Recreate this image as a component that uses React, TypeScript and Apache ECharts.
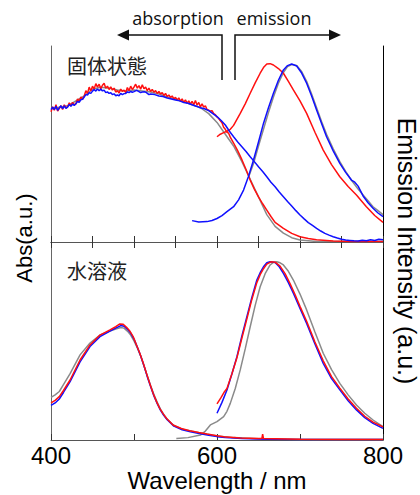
import React, { useEffect, useRef } from "react";
import * as echarts from "echarts";

type P = [number, number];

// ---- Top panel (solid state) ----
const absTopGray: P[] = [[400,0.68],[420,0.695],[440,0.745],[450,0.78],[460,0.79],[470,0.785],[480,0.775],[490,0.77],[500,0.775],[510,0.77],[520,0.765],[530,0.755],[540,0.74],[550,0.728],[560,0.715],[570,0.7],[580,0.685],[590,0.655],[600,0.61],[610,0.55],[620,0.49],[630,0.41],[640,0.32],[650,0.23],[660,0.14],[670,0.08],[680,0.045],[690,0.022],[700,0.01],[720,0.003],[800,0.002]];
const absTopRed: P[] = [[400,0.665],[402,0.69],[404,0.672],[406,0.7],[408,0.668],[410,0.682],[412,0.695],[414,0.676],[416,0.7],[418,0.684],[420,0.69],[422,0.71],[424,0.695],[426,0.712],[428,0.7],[430,0.705],[432,0.73],[434,0.718],[436,0.74],[438,0.728],[440,0.745],[442,0.772],[444,0.758],[446,0.79],[448,0.77],[450,0.795],[452,0.78],[454,0.808],[456,0.79],[458,0.805],[460,0.782],[462,0.8],[464,0.81],[466,0.785],[468,0.795],[470,0.778],[472,0.792],[474,0.775],[476,0.785],[478,0.765],[480,0.772],[482,0.76],[484,0.78],[486,0.768],[488,0.775],[490,0.762],[492,0.788],[494,0.772],[496,0.795],[498,0.778],[500,0.79],[502,0.805],[504,0.785],[506,0.798],[508,0.78],[510,0.802],[512,0.782],[514,0.79],[516,0.772],[518,0.785],[520,0.768],[522,0.778],[524,0.765],[526,0.772],[528,0.758],[530,0.768],[532,0.755],[534,0.762],[536,0.748],[538,0.758],[540,0.742],[542,0.75],[544,0.738],[546,0.745],[548,0.73],[550,0.738],[552,0.725],[554,0.735],[556,0.718],[558,0.73],[560,0.712],[562,0.725],[564,0.708],[566,0.72],[568,0.703],[570,0.718],[572,0.7],[574,0.722],[576,0.698],[578,0.712],[580,0.69],[582,0.705],[584,0.688],[586,0.695],[588,0.676],[590,0.672],[592,0.668],[594,0.67],[596,0.655],[598,0.65],[600,0.638],[602,0.63],[604,0.618],[606,0.608],[608,0.585],[610,0.575],[612,0.56],[614,0.555],[616,0.535],[620,0.505],[625,0.465],[630,0.42],[635,0.37],[640,0.316],[645,0.27],[650,0.23],[655,0.195],[660,0.163],[665,0.13],[670,0.1],[680,0.07],[690,0.044],[700,0.027],[710,0.018],[720,0.012],[740,0.005],[760,0.003],[780,0.002],[800,0.002]];
const absTopBlue: P[] = [[400,0.675],[402,0.688],[404,0.676],[406,0.692],[408,0.672],[410,0.684],[412,0.695],[414,0.68],[416,0.694],[418,0.682],[420,0.688],[422,0.702],[424,0.692],[426,0.704],[428,0.697],[430,0.705],[432,0.718],[434,0.712],[436,0.726],[438,0.728],[440,0.74],[442,0.752],[444,0.75],[446,0.762],[448,0.758],[450,0.77],[452,0.778],[454,0.77],[456,0.781],[458,0.772],[460,0.78],[462,0.771],[464,0.775],[466,0.762],[468,0.766],[470,0.758],[472,0.762],[474,0.752],[476,0.756],[478,0.746],[480,0.75],[482,0.746],[484,0.758],[486,0.752],[488,0.757],[490,0.758],[492,0.766],[494,0.762],[496,0.768],[498,0.764],[500,0.767],[503,0.774],[505,0.77],[508,0.762],[510,0.765],[513,0.766],[515,0.762],[518,0.752],[520,0.755],[525,0.752],[530,0.745],[535,0.742],[540,0.735],[545,0.73],[550,0.725],[555,0.72],[560,0.712],[565,0.708],[570,0.7],[575,0.693],[580,0.685],[585,0.68],[590,0.67],[595,0.655],[600,0.64],[605,0.62],[610,0.597],[615,0.565],[620,0.537],[625,0.51],[630,0.486],[635,0.462],[640,0.435],[645,0.41],[650,0.384],[655,0.36],[660,0.333],[665,0.305],[670,0.282],[675,0.255],[680,0.231],[685,0.207],[690,0.184],[695,0.16],[700,0.138],[705,0.118],[710,0.099],[715,0.085],[720,0.07],[725,0.056],[730,0.044],[735,0.035],[740,0.027],[745,0.02],[750,0.014],[755,0.01],[760,0.008],[765,0.006],[770,0.005],[775,0.009],[780,0.006],[785,0.011],[790,0.008],[795,0.014],[800,0.012]];
const emTopGray: P[] = [[638,0.33],[644,0.4],[650,0.49],[656,0.575],[662,0.66],[668,0.74],[674,0.81],[680,0.865],[685,0.895],[690,0.905],[696,0.9],[702,0.87],[708,0.82],[714,0.755],[720,0.685],[726,0.615],[732,0.55],[740,0.475],[748,0.41],[755,0.36],[762,0.315],[770,0.27],[776,0.24],[782,0.21],[788,0.18],[794,0.16],[800,0.14]];
const emTopRed: P[] = [[600,0.537],[604,0.55],[608,0.558],[612,0.565],[616,0.575],[620,0.595],[628,0.656],[634,0.705],[640,0.759],[646,0.812],[652,0.861],[656,0.89],[660,0.908],[664,0.91],[668,0.903],[674,0.885],[680,0.861],[686,0.82],[692,0.776],[700,0.72],[708,0.656],[718,0.56],[728,0.469],[738,0.395],[748,0.333],[758,0.283],[768,0.24],[780,0.18],[790,0.135],[800,0.1]];
const emTopBlue: P[] = [[570,0.109],[578,0.102],[588,0.104],[594,0.11],[600,0.12],[606,0.135],[612,0.155],[620,0.18],[626,0.215],[632,0.265],[638,0.335],[644,0.418],[650,0.51],[656,0.605],[662,0.685],[668,0.759],[674,0.825],[680,0.878],[685,0.9],[690,0.908],[696,0.898],[702,0.862],[708,0.81],[714,0.745],[720,0.673],[726,0.605],[732,0.537],[740,0.465],[748,0.401],[755,0.355],[762,0.316],[766,0.305],[770,0.285],[776,0.235],[782,0.2],[788,0.172],[794,0.148],[800,0.129]];

// ---- Bottom panel (aqueous solution) ----
const absBotGray: P[] = [[400,0.215],[405,0.228],[410,0.245],[415,0.28],[423,0.335],[435,0.43],[447,0.49],[459,0.53],[471,0.55],[478,0.56],[484,0.568],[488,0.565],[492,0.55],[496,0.53],[500,0.5],[504,0.465],[508,0.425],[512,0.375],[516,0.325],[520,0.275],[524,0.23],[528,0.19],[532,0.155],[536,0.128],[540,0.105],[548,0.073],[558,0.055],[570,0.044],[580,0.036],[590,0.028],[600,0.02],[620,0.012],[650,0.006],[700,0.003],[800,0.002]];
const absBotRed: P[] = [[400,0.188],[405,0.2],[410,0.219],[415,0.25],[423,0.303],[435,0.404],[447,0.48],[459,0.53],[471,0.556],[478,0.572],[483,0.586],[487,0.585],[491,0.569],[495,0.55],[499,0.522],[503,0.48],[507,0.438],[511,0.39],[515,0.337],[519,0.285],[523,0.236],[527,0.195],[531,0.16],[535,0.133],[539,0.11],[547,0.076],[557,0.058],[567,0.047],[578,0.038],[588,0.03],[600,0.022],[608,0.017],[628,0.01],[650,0.007],[654,0.007],[655,0.03],[656,0.007],[700,0.004],[750,0.003],[800,0.002]];
const absBotBlue: P[] = [[400,0.175],[405,0.187],[410,0.207],[415,0.24],[423,0.295],[435,0.395],[447,0.472],[459,0.522],[471,0.55],[478,0.565],[484,0.578],[488,0.575],[492,0.56],[496,0.54],[500,0.51],[504,0.47],[508,0.425],[512,0.375],[516,0.32],[520,0.27],[524,0.222],[528,0.183],[532,0.15],[536,0.123],[540,0.102],[548,0.07],[558,0.052],[568,0.041],[580,0.032],[590,0.024],[600,0.017],[610,0.012],[630,0.007],[660,0.004],[700,0.003],[800,0.002]];
const emBotGray: P[] = [[551,0.008],[565,0.012],[580,0.025],[586,0.045],[592,0.076],[600,0.093],[608,0.118],[612,0.145],[616,0.185],[622,0.26],[628,0.354],[634,0.46],[640,0.572],[646,0.68],[652,0.774],[658,0.84],[664,0.884],[668,0.897],[672,0.9],[676,0.895],[680,0.884],[686,0.852],[692,0.808],[700,0.737],[708,0.657],[718,0.545],[728,0.438],[738,0.355],[748,0.286],[758,0.228],[768,0.177],[778,0.135],[788,0.101],[800,0.067]];
const emBotRed: P[] = [[600,0.182],[605,0.215],[609,0.244],[612,0.26],[618,0.335],[624,0.415],[630,0.515],[636,0.612],[642,0.71],[648,0.795],[652,0.835],[656,0.865],[660,0.888],[665,0.9],[670,0.898],[676,0.878],[682,0.84],[688,0.79],[694,0.735],[700,0.675],[708,0.6],[718,0.495],[728,0.4],[738,0.32],[748,0.262],[758,0.207],[768,0.16],[778,0.12],[788,0.09],[800,0.066]];
const emBotBlue: P[] = [[600,0.135],[606,0.19],[612,0.253],[618,0.335],[624,0.421],[630,0.525],[636,0.623],[642,0.72],[648,0.808],[652,0.845],[656,0.875],[660,0.895],[664,0.9],[670,0.896],[675,0.875],[680,0.842],[686,0.795],[692,0.741],[700,0.665],[708,0.589],[718,0.485],[728,0.387],[738,0.31],[748,0.253],[758,0.198],[768,0.152],[778,0.113],[788,0.084],[800,0.059]];

const xTickLabels = [400, 600, 800];
const panelLabels = ["固体状態", "水溶液"];

const RED = "#ff1010";
const BLUE = "#1010ff";
const GRAY = "#8a8a8a";

export default function App() {
  const ref = useRef<HTMLDivElement>(null);
  useEffect(() => {
    document.body.style.margin = "0";
    if (!ref.current) return;
    const chart = echarts.init(ref.current, undefined, { renderer: "svg" });
    const line = (data: P[], color: string, panel: number) => ({
      type: "line",
      data,
      xAxisIndex: panel === 0 ? 0 : 2,
      yAxisIndex: panel === 0 ? 0 : 2,
      showSymbol: false,
      symbol: "none",
      lineStyle: { color, width: 1.5 },
      itemStyle: { color },
      silent: true,
      z: 3,
    });
    const baseX = {
      type: "value",
      min: 400,
      max: 800,
      splitLine: { show: false },
      axisLine: { show: true, lineStyle: { color: "#555", width: 1 } },
      axisTick: { show: true, inside: true, length: 6, lineStyle: { color: "#333" } },
      axisLabel: { show: false },
    };
    const baseY = (gridIndex: number, position: string, color: string) => ({
      type: "value",
      gridIndex,
      position,
      min: 0,
      max: 1,
      splitLine: { show: false },
      axisLine: { show: true, lineStyle: { color, width: 1 } },
      axisTick: { show: false },
      axisLabel: { show: false },
    });
    const txt = "'Liberation Sans', Arial, sans-serif";
    chart.setOption({
      animation: false,
      grid: [
        { left: 51, top: 46, width: 332, height: 196 },
        { left: 51, top: 242, width: 332, height: 198 },
      ],
      xAxis: [
        { ...baseX, gridIndex: 0, position: "bottom", interval: 50 },
        { ...baseX, gridIndex: 0, position: "top", interval: 50 },
        {
          ...baseX,
          gridIndex: 1,
          position: "bottom",
          interval: 100,
          axisLabel: {
            show: true,
            margin: 3,
            fontSize: 24,
            color: "#000",
            fontFamily: txt,
            formatter: (v: number) => (xTickLabels.includes(v) ? String(v) : ""),
          },
          name: "Wavelength / nm",
          nameLocation: "middle",
          nameGap: 28,
          nameTextStyle: { fontSize: 24, color: "#000", fontFamily: txt },
        },
      ],
      yAxis: [
        baseY(0, "left", "#666"),
        baseY(0, "right", "#000"),
        baseY(1, "left", "#666"),
        baseY(1, "right", "#000"),
      ],
      series: [
        line(absTopGray, GRAY, 0),
        line(emTopGray, GRAY, 0),
        line(absTopRed, RED, 0),
        line(emTopRed, RED, 0),
        line(absTopBlue, BLUE, 0),
        line(emTopBlue, BLUE, 0),
        line(absBotGray, GRAY, 1),
        line(emBotGray, GRAY, 1),
        line(absBotBlue, BLUE, 1),
        line(emBotBlue, BLUE, 1),
        line(absBotRed, RED, 1),
        line(emBotRed, RED, 1),
      ],
      graphic: [
        { type: "text", x: 178, y: 18, style: { text: "absorption", fontSize: 18, fontFamily: "'Open Sans', sans-serif", fill: "#111", textAlign: "center", textVerticalAlign: "middle" } },
        { type: "text", x: 274, y: 18, style: { text: "emission", fontSize: 18, fontFamily: "'Open Sans', sans-serif", fill: "#111", textAlign: "center", textVerticalAlign: "middle" } },
        { type: "polyline", shape: { points: [[222, 80], [222, 35], [127, 35]] }, style: { stroke: "#111", lineWidth: 1.5, fill: "none" } },
        { type: "polygon", shape: { points: [[117, 35], [129, 29.5], [129, 40.5]] }, style: { fill: "#111" } },
        { type: "polyline", shape: { points: [[235, 80], [235, 35], [331, 35]] }, style: { stroke: "#111", lineWidth: 1.5, fill: "none" } },
        { type: "polygon", shape: { points: [[341, 35], [329, 29.5], [329, 40.5]] }, style: { fill: "#111" } },
        { type: "text", x: 67, y: 65, style: { text: panelLabels[0], fontSize: 20, fontFamily: "'Noto Sans CJK JP', sans-serif", fill: "#222", textAlign: "left", textVerticalAlign: "middle" } },
        { type: "text", x: 67, y: 270, style: { text: panelLabels[1], fontSize: 20, fontFamily: "'Noto Sans CJK JP', sans-serif", fill: "#222", textAlign: "left", textVerticalAlign: "middle" } },
        { type: "text", x: 24, y: 238, rotation: Math.PI / 2, style: { text: "Abs(a.u.)", fontSize: 22, fontFamily: txt, fill: "#000", textAlign: "center", textVerticalAlign: "middle" } },
        { type: "text", x: 407, y: 251, rotation: -Math.PI / 2, style: { text: "Emission Intensity (a.u.)", fontSize: 25, fontFamily: txt, fill: "#000", textAlign: "center", textVerticalAlign: "middle" } },
      ],
    });
    return () => chart.dispose();
  }, []);
  return <div ref={ref} style={{ width: 420, height: 495 }} />;
}
